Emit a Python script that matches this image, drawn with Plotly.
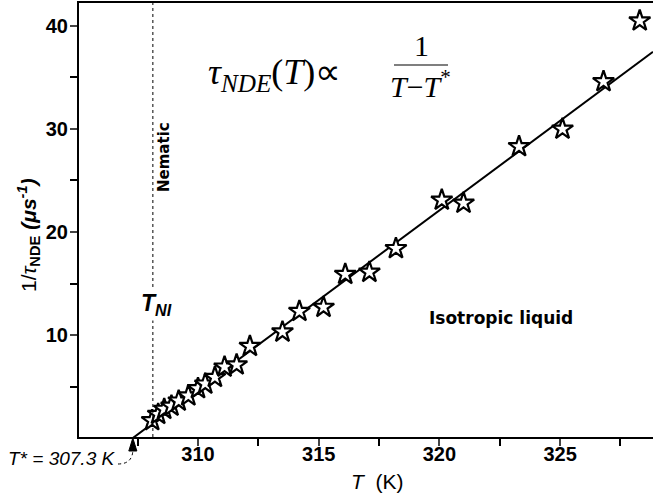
import plotly.graph_objects as go

# ---- data ----
T_K = [308.1, 308.35, 308.6, 308.9, 309.2, 309.6, 310.0, 310.3, 310.7, 311.1,
       311.6, 312.15, 313.5, 314.2, 315.2, 316.1, 317.1, 318.2, 320.1, 321.0,
       323.3, 325.1, 326.8, 328.3]
inv_tau = [1.7, 2.3, 2.8, 3.1, 3.6, 4.1, 4.8, 5.25, 5.9, 6.9,
           7.1, 8.9, 10.3, 12.3, 12.7, 15.9, 16.1, 18.4, 23.1, 22.8,
           28.3, 30.0, 34.6, 40.5]
fit_T = [307.3, 328.85]
fit_y = [0.0, 37.5]
T_NI = 308.13
x_ticks = [310, 315, 320, 325]
y_ticks = [10, 20, 30, 40]
x_labels = ["310", "315", "320", "325"]
y_labels = ["10", "20", "30", "40"]

X_RANGE = [305.07, 328.85]
Y_RANGE = [0.1, 42.23]
W, H = 655, 501
ML, MR, MT, MB = 79, 2, 3, 64
PW, PH = W - ML - MR, H - MT - MB


def px_x(p):
    return (p - ML) / PW


def px_y(p):
    return (H - MB - p) / PH


def dx(v):
    return (v - X_RANGE[0]) / (X_RANGE[1] - X_RANGE[0])


fig = go.Figure()
fig.add_trace(go.Scatter(x=fit_T, y=fit_y, mode="lines",
                         line=dict(color="black", width=2), showlegend=False))
fig.add_trace(go.Scatter(x=T_K, y=inv_tau, mode="markers",
                         marker=dict(symbol="star", size=16, color="white",
                                     line=dict(color="black", width=2.2)),
                         showlegend=False))

# nematic dotted vertical line
fig.add_shape(type="line", xref="x", yref="paper", x0=T_NI, x1=T_NI, y0=0, y1=1,
              line=dict(color="black", width=1, dash="dot"))

tickfont = dict(family="Arial, Liberation Sans", size=20, color="black")
fig.update_xaxes(range=X_RANGE, tickvals=x_ticks, ticktext=[f"<b>{t}</b>" for t in x_labels],
                 ticks="outside", ticklen=7, tickwidth=2,
                 showline=True, linewidth=2, linecolor="black", mirror=True,
                 showgrid=False, zeroline=False, tickfont=tickfont, ticklabelstandoff=-9,
                 minor=dict(dtick=2.5, tick0=310, ticks="outside", ticklen=7, tickwidth=2, tickcolor="black"))
fig.update_yaxes(range=Y_RANGE, tickvals=y_ticks, ticktext=[f"<b>{t}</b>" for t in y_labels],
                 ticks="outside", ticklen=7, tickwidth=2,
                 showline=True, linewidth=2, linecolor="black",
                 showgrid=False, zeroline=False, tickfont=tickfont, ticklabelstandoff=-2,
                 minor=dict(dtick=5, tick0=0, ticks="outside", ticklen=7, tickwidth=2, tickcolor="black"))


def A(x, y, text, size, family="Liberation Sans", **kw):
    d = dict(xref="paper", yref="paper", x=px_x(x), y=px_y(y), text=text,
             showarrow=False, xanchor="center", yanchor="middle",
             font=dict(family=family, size=size, color="black"))
    d.update(kw)
    return d


ann = [
    A(377, 481, "<i>T</i>  (K)", 21),
    A(28, 235, "1/<i>τ</i><sub><b>NDE</b></sub> <b><i>(μs<sup>-1</sup>)</i></b>", 21, textangle=-90),
    A(501, 318, "<b>Isotropic liquid</b>", 17, family="DejaVu Sans"),
    A(164, 157, "<b>Nematic</b>", 15, family="DejaVu Sans", textangle=-90),
    A(156, 304, "<b><i>T<sub>NI</sub></i></b>", 23, bgcolor="white"),
    A(61, 458, "<i>T* = 307.3 K</i>", 19),
    A(274, 74, "<i>τ</i><sub><i>NDE</i></sub>(<i>T</i>)∝", 36, family="Liberation Serif"),
    A(421, 45, "1", 30, family="Liberation Serif"),
    A(420, 84, "<i>T</i>−<i>T</i><sup>*</sup>", 30, family="Liberation Serif"),
]
fig.update_layout(annotations=ann)

# fraction bar
fig.add_shape(type="line", xref="paper", yref="paper", x0=px_x(394), x1=px_x(448),
              y0=px_y(65), y1=px_y(65), line=dict(color="#555555", width=1.5))
# T* arrow and dotted connector
xa = dx(fit_T[0])
ya0, ya1 = px_y(438), px_y(451)
fig.add_shape(type="path", xref="paper", yref="paper",
              path=f"M {xa-0.007},{ya1} L {xa+0.007},{ya1} L {xa},{ya0} Z",
              fillcolor="black", line=dict(color="black", width=1))
fig.add_shape(type="path", xref="paper", yref="paper",
              path=f"M {px_x(118)},{px_y(464)} Q {px_x(132)},{px_y(464)} {xa},{ya1}",
              line=dict(color="black", width=1, dash="dot"))

fig.update_layout(width=W, height=H, margin=dict(l=ML, r=MR, t=MT, b=MB),
                  plot_bgcolor="white", paper_bgcolor="white")
fig.write_html("out.html")
